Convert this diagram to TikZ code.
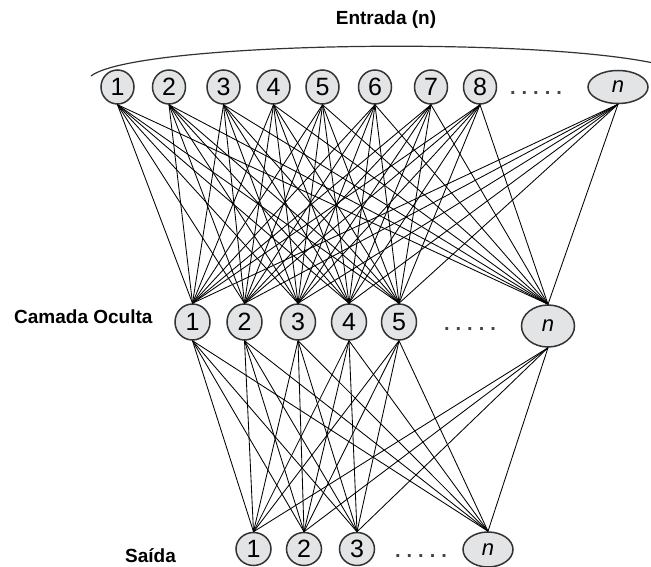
\documentclass[tikz,border=0pt]{standalone}
\usepackage{fontspec}
\setmainfont{Liberation Sans}
\usetikzlibrary{shapes.geometric}
\definecolor{unitfill}{HTML}{E3E4E6}
\definecolor{unitedge}{HTML}{333333}
\definecolor{dotgray}{HTML}{444444}
\tikzset{
  unit/.style={ellipse, draw=unitedge, line width=1.5pt, fill=unitfill,
    inner sep=0pt, minimum width=33pt, minimum height=34pt,
    font=\fontsize{25}{25}\selectfont},
  unitn/.style={unit, font=\fontsize{22}{22}\selectfont\itshape},
  link/.style={draw=black, line width=0.85pt},
  layerlabel/.style={font=\fontsize{19}{19}\selectfont\bfseries, inner sep=0pt},
  ellip/.style={font=\fontsize{20}{20}\selectfont\bfseries, text=dotgray,
    inner sep=0pt, anchor=base}
}
\newcommand{\fivedots}{.\kern6pt.\kern6pt.\kern6pt.\kern6pt.}
\begin{document}
\begin{tikzpicture}[x=1pt, y=-1pt]
\useasboundingbox (0,0) rectangle (651,567);

% input layer
\foreach \k/\x in {1/117.5, 2/169, 3/223.5, 4/273.5, 5/322.5, 6/375, 7/431, 8/480}
  \node[unit] (i\k) at (\x,87) {\k};
\node[unitn, minimum width=60pt, minimum height=33pt] (in) at (618,87) {n};
\node[ellip] (idots) at (536,95) {\fivedots};

% hidden layer
\foreach \k/\x in {1/192.5, 2/244.5, 3/298, 4/349, 5/399}
  \node[unit, minimum width=35pt, minimum height=36pt] (h\k) at (\x,322) {\k};
\node[unitn, minimum width=53pt, minimum height=42pt] (hn) at (548,326) {n};
\node[ellip] (hdots) at (470,330) {\fivedots};

% output layer
\foreach \k/\x in {1/253.5, 2/304, 3/357}
  \node[unit, minimum width=35pt, minimum height=33pt] (o\k) at (\x,549) {\k};
\node[unitn, minimum width=50pt, minimum height=35pt] (on) at (488,549.5) {n};
\node[ellip] (odots) at (421,557) {\fivedots};

% connections input -> hidden
\foreach \a in {i1,i2,i3,i4,i5,i6,i7,i8,in}
  \foreach \b in {h1,h2,h3,h4,h5,hn}
    \draw[link] (\a.south) -- (\b.north);

% connections hidden -> output
\foreach \a in {h1,h2,h3,h4,h5,hn}
  \foreach \b in {o1,o2,o3,on}
    \draw[link] (\a.south) -- (\b.north);

% brace over the inputs
\coordinate (arcL) at (91,76);
\coordinate (arcR) at (689,75);
\draw[line width=1.2pt, unitedge] (arcL) .. controls (140,38) and (630,35) .. (arcR);

% labels
\node[layerlabel, anchor=base] (lin) at (386,25) {Entrada (n)};
\node[layerlabel, anchor=base west] (lhid) at (14,323) {Camada Oculta};
\node[layerlabel, anchor=base west] (lout) at (125,562) {Saída};
\end{tikzpicture}
\end{document}
